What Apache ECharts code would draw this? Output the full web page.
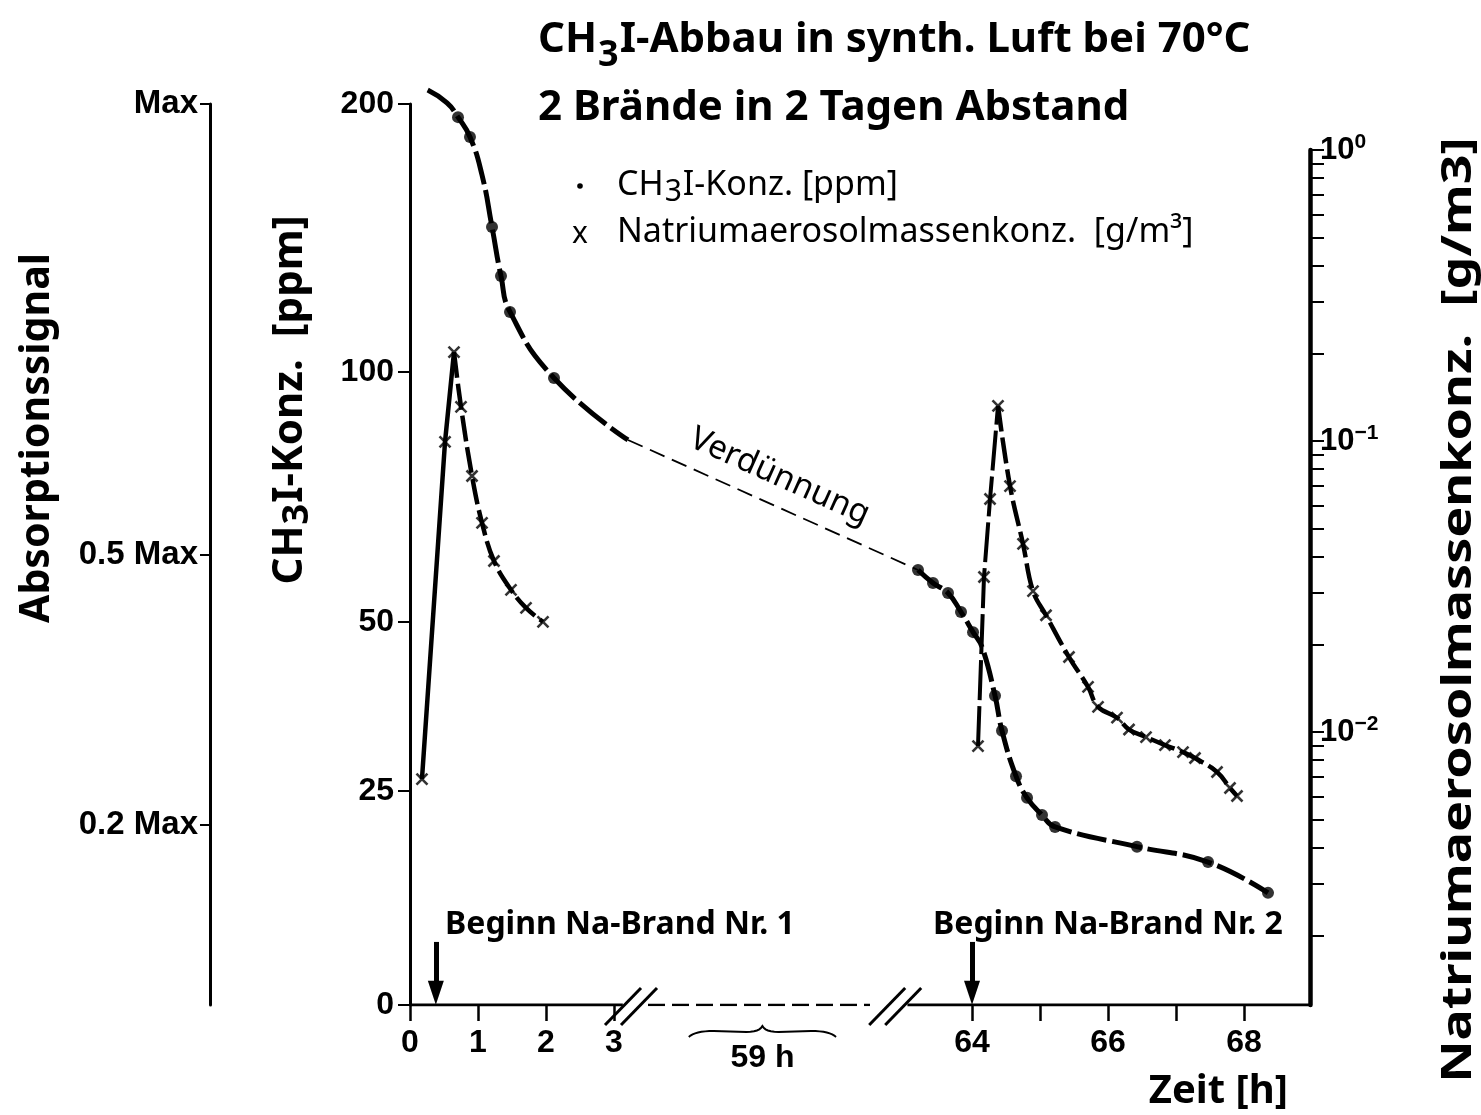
<!DOCTYPE html>
<html><head><meta charset="utf-8">
<script src="https://cdn.jsdelivr.net/npm/echarts@6/dist/echarts.min.js"></script>
<style>html,body{margin:0;padding:0;background:#fff}#c{width:1481px;height:1115px}</style>
</head><body><div id="c"></div>
<script>
// ================= DATA =================
// time axis (hours)
const timeTicks  = [0, 1, 2, 3, 64, 65, 66, 67, 68];
const timeLabels = [0, 1, 2, 3, 64, 66, 68];
const timeBreak  = [3.25, 62.9];      // axis break between these hours (59 h compressed)
const timeShift  = 55.735;            // hours removed by the break
const fireStart  = [0.38, 64.0];      // "Beginn Na-Brand" arrows

// CH3I axis (ppm) – calibrated against absorption signal (fraction of Max)
const ch3iTicks    = [0, 25, 50, 100, 200];
const ch3iTickFrac = [0, 0.2375, 0.4251, 0.7026, 1];
// absorption signal axis
const absTicks      = [0.2, 0.5, 1];
const absTickLabels = ['0.2 Max', '0.5 Max', 'Max'];
// aerosol axis (log10 of g/m3)
const aeroLogMin = -2.938, aeroLogMax = 0;
const aeroLabelExp = [0, -1, -2];
const aeroLabels   = ['10{s|0}', '10{s|−1}', '10{s|−2}'];

// CH3I concentration [time h, ppm]
const ch3iCurve1 = [[0.26,205.2],[0.544,200.4],[0.706,195.1],[0.882,187.7],[1.059,173.5],[1.206,154.1],[1.338,135.8],[1.471,122.4],[2.118,98.8],[3.206,86.4]];
const ch3iDilution = [[3.206,86.4],[63.206,60.4]];
const ch3iCurve2 = [[63.206,60.4],[63.426,57.8],[63.647,55.8],[63.838,52.0],[64.015,48.5],[64.147,46.3],[64.338,39.1],[64.441,33.9],[64.647,27.2],[64.809,24.2],[65.029,22.2],[65.221,20.8],[66.426,18.5],[67.471,16.7],[68.353,13.1]];
const ch3iMeasured = [[0.544,200.4],[0.706,195.1],[0.882,187.7],[1.206,154.1],[1.338,135.8],[1.471,122.4],[2.118,98.8],
  [63.206,60.4],[63.426,57.8],[63.647,55.8],[63.838,52.0],[64.015,48.5],[64.338,39.1],[64.441,33.9],[64.647,27.2],[64.809,24.2],[65.029,22.2],[65.221,20.8],[66.426,18.5],[67.471,16.7],[68.353,13.1]];

// Na aerosol mass concentration [time h, g/m3]
const aeroRise1  = [[0.176,0.00689],[0.515,0.0993],[0.647,0.202]];
const aeroDecay1 = [[0.647,0.202],[0.75,0.131],[0.912,0.0758],[1.059,0.0523],[1.235,0.0387],[1.485,0.0308],[1.706,0.0267],[1.956,0.0239]];
const aeroRise2  = [[64.088,0.00895],[64.176,0.0341],[64.265,0.0632],[64.382,0.132]];
const aeroDecay2 = [[64.382,0.132],[64.559,0.070],[64.75,0.0443],[64.897,0.0305],[65.088,0.0252],[65.426,0.0181],[65.706,0.0143],[65.853,0.0122],[66.132,0.0112],[66.309,0.0102],[66.559,0.00961],[66.838,0.00902],[67.103,0.00853],[67.279,0.00814],[67.603,0.00729],[67.794,0.00642],[67.897,0.00603]];

// ================= SCALES =================
function tAx(t){
  const b0 = timeBreak[0], b1 = timeBreak[1], u1 = b1 - timeShift;
  if (t <= b0) return t;
  if (t >= b1) return t - timeShift;
  return b0 + (t - b0) * (u1 - b0) / (b1 - b0);
}
function ppmToFrac(c){
  const T = ch3iTicks, F = ch3iTickFrac;
  let i = 1; while (i < T.length - 1 && c > T[i]) i++;
  return F[i-1] + (c - T[i-1]) * (F[i] - F[i-1]) / (T[i] - T[i-1]);
}
const near = (a,b) => Math.abs(a-b) < 1e-6;
const ch3iPts = arr => arr.map(p => [tAx(p[0]), ppmToFrac(p[1])]);
const aeroPts = arr => arr.map(p => [tAx(p[0]), Math.log10(p[1])]);
const aeroTickVals = [];
for (let e = -3; e <= 0; e++) for (let k = 1; k <= 9; k++) {
  const v = e + Math.log10(k);
  if (v >= aeroLogMin - 1e-9 && v <= aeroLogMax + 1e-9) aeroTickVals.push(v);
}

// ================= STYLE =================
const SANS = "'Noto Sans','Open Sans',sans-serif";
const TICKF = "'Liberation Sans',Arial,sans-serif";
const tickLabel = {fontFamily: TICKF, fontWeight: 'bold', fontSize: 32, color: '#000'};
const K = '#000';
const U_MAX = 900 / 68;
const subRich = (size, bold, lh) => ({sub: {fontFamily: SANS, fontWeight: bold ? 'bold' : 'normal', fontSize: size, verticalAlign: 'bottom', lineHeight: lh, padding: [0, 1, 0, 1]}});

const chart = echarts.init(document.getElementById('c'), null, {renderer: 'canvas'});
const G0 = {left: 410, top: 104, width: 900, height: 901};
const G1 = {left: 410, top: 150, width: 900, height: 855};

const option = {
  backgroundColor: '#fff',
  animation: false,
  title: {
    text: 'CH{sub|3}I-Abbau in synth. Luft bei 70°C\n2 Brände in 2 Tagen Abstand',
    left: 533, top: 1,
    textStyle: {fontFamily: SANS, fontWeight: 'bold', fontSize: 42, lineHeight: 68, color: K, rich: subRich(36, true, 64)}
  },
  grid: [G0, G1],
  xAxis: [
    {gridIndex: 0, type: 'value', min: 0, max: U_MAX,
     axisLine: {show: false, onZero: false}, splitLine: {show: false},
     axisTick: {show: true, customValues: timeTicks.map(tAx), length: 16, lineStyle: {color: K, width: 2.5}},
     axisLabel: {customValues: timeLabels.map(tAx), margin: 22, ...tickLabel,
       formatter: v => { const i = timeLabels.findIndex(l => near(tAx(l), v)); return i < 0 ? '' : String(timeLabels[i]); }}},
    {gridIndex: 1, type: 'value', min: 0, max: U_MAX, show: false, axisLine: {onZero: false}}
  ],
  yAxis: [
    {gridIndex: 0, type: 'value', min: 0, max: 1, position: 'left',
     axisLine: {show: true, onZero: false, lineStyle: {color: K, width: 3}}, splitLine: {show: false},
     axisTick: {show: true, customValues: ch3iTickFrac, length: 12, lineStyle: {color: K, width: 2}},
     axisLabel: {customValues: ch3iTickFrac, margin: 16, ...tickLabel,
       formatter: v => { const i = ch3iTickFrac.findIndex(f => near(f, v)); return i < 0 ? '' : String(ch3iTicks[i]); }}},
    {gridIndex: 1, type: 'value', min: aeroLogMin, max: aeroLogMax, position: 'right',
     axisLine: {show: true, onZero: false, lineStyle: {color: K, width: 4.5}}, splitLine: {show: false},
     axisTick: {show: true, customValues: aeroTickVals, length: 14, lineStyle: {color: K, width: 2}},
     axisLabel: {customValues: aeroLabelExp, margin: 10, ...tickLabel, fontSize: 31, lineHeight: 36, verticalAlign: 'middle',
       rich: {s: {fontFamily: TICKF, fontWeight: 'bold', fontSize: 21, lineHeight: 20, verticalAlign: 'top'}},
       formatter: v => { const i = aeroLabelExp.findIndex(e => near(e, v)); return i < 0 ? '' : aeroLabels[i]; }}},
    {gridIndex: 0, type: 'value', min: 0, max: 1, position: 'left', offset: 200,
     axisLine: {show: true, onZero: false, lineStyle: {color: K, width: 3}}, splitLine: {show: false},
     axisTick: {show: true, customValues: absTicks, length: 10, lineStyle: {color: K, width: 2}},
     axisLabel: {customValues: absTicks, margin: 12, ...tickLabel, fontSize: 33,
       formatter: v => { const i = absTicks.findIndex(f => near(f, v)); return i < 0 ? '' : absTickLabels[i]; }}}
  ],
  series: [
    // broken time axis line
    {type: 'line', xAxisIndex: 0, yAxisIndex: 0, silent: true, symbol: 'none', z: 5,
     data: [[0,0],[tAx(timeBreak[0]) - 0.12, 0]], lineStyle: {color: K, width: 3},
     markLine: {silent: true, symbol: ['none', 'triangle'], symbolSize: [16, 24],
       label: {show: false}, lineStyle: {color: K, width: 5, type: 'solid'},
       data: fireStart.map(t => [{coord: [tAx(t), 0.07]}, {coord: [tAx(t), 0.0135]}])}},
    {type: 'line', xAxisIndex: 0, yAxisIndex: 0, silent: true, symbol: 'none', z: 5,
     data: [[tAx(timeBreak[0]) + 0.25, 0],[tAx(timeBreak[1]) - 0.4, 0]], lineStyle: {color: K, width: 2.5, type: [17, 7]}},
    {type: 'line', xAxisIndex: 0, yAxisIndex: 0, silent: true, symbol: 'none', z: 5,
     data: [[tAx(timeBreak[1]) + 0.15, 0],[U_MAX, 0]], lineStyle: {color: K, width: 3}},
    // CH3I
    {name: 'CH3I-1', type: 'line', xAxisIndex: 0, yAxisIndex: 0, data: ch3iPts(ch3iCurve1), smooth: 0.5, clip: false,
     symbol: 'none', lineStyle: {color: K, width: 5, type: [34, 6]}},
    {name: 'Verd', type: 'line', xAxisIndex: 0, yAxisIndex: 0, data: ch3iPts(ch3iDilution),
     symbol: 'none', lineStyle: {color: K, width: 1.8, type: [16, 8]}},
    {name: 'CH3I-2', type: 'line', xAxisIndex: 0, yAxisIndex: 0, data: ch3iPts(ch3iCurve2), smooth: 0.45,
     symbol: 'none', lineStyle: {color: K, width: 5, type: [30, 6]}},
    {name: 'CH₃I-Konz. [ppm]', type: 'scatter', xAxisIndex: 0, yAxisIndex: 0, data: ch3iPts(ch3iMeasured),
     symbol: 'circle', symbolSize: 12, itemStyle: {color: K}, z: 6},
    // aerosol
    {type: 'line', xAxisIndex: 1, yAxisIndex: 1, data: aeroPts(aeroRise1), symbol: 'none', lineStyle: {color: K, width: 4.5}},
    {type: 'line', xAxisIndex: 1, yAxisIndex: 1, data: aeroPts(aeroDecay1), smooth: 0.4, symbol: 'none', lineStyle: {color: K, width: 4.5, type: [26, 6]}},
    {type: 'line', xAxisIndex: 1, yAxisIndex: 1, data: aeroPts(aeroRise2), symbol: 'none', lineStyle: {color: K, width: 4, type: [40, 6]}},
    {type: 'line', xAxisIndex: 1, yAxisIndex: 1, data: aeroPts(aeroDecay2), smooth: 0.4, symbol: 'none', lineStyle: {color: K, width: 4.5, type: [26, 6]}},
    {name: 'Natriumaerosolmassenkonz. [g/m³]', type: 'scatter', xAxisIndex: 1, yAxisIndex: 1,
     data: aeroPts(aeroRise1.concat(aeroDecay1.slice(1), aeroRise2, aeroDecay2.slice(1))),
     symbol: 'path://M0,0L10,10M10,0L0,10', symbolSize: 11,
     itemStyle: {color: 'rgba(0,0,0,0)', borderColor: K, borderWidth: 2.6}, z: 6}
  ]
};
chart.setOption(option);

// ---------- annotations (positioned from the axes) ----------
const px = (u, f) => chart.convertToPixel({xAxisIndex: 0, yAxisIndex: 0}, [u, f]);
const axisY = px(0, 0)[1];
const g = [];
function slashes(u){
  const c = px(u, 0)[0];
  [-8, 8].forEach(d => g.push({type: 'line', silent: true, z: 20,
    shape: {x1: c + d - 18, y1: axisY + 20, x2: c + d + 18, y2: axisY - 17},
    style: {stroke: K, lineWidth: 3}}));
}
slashes(tAx(timeBreak[0]));
slashes(tAx(timeBreak[1]) - 0.03);
// brace under the dashed (compressed) part of the time axis
function quad(a, c, b, n, out){
  for (let i = 1; i <= n; i++){ const s = i / n, r = 1 - s;
    out.push([r*r*a[0] + 2*r*s*c[0] + s*s*b[0], r*r*a[1] + 2*r*s*c[1] + s*s*b[1]]); }
}
const bL = px(tAx(timeBreak[0]) + 0.85, 0)[0], bR = px(tAx(timeBreak[1]) - 0.9, 0)[0], bM = (bL + bR) / 2, by = axisY + 27;
const bp = [[bL, by + 5]];
quad([bL, by + 5], [bL + 6, by - 1], [bL + 25, by - 1], 8, bp);
bp.push([bM - 16, by]);
quad([bM - 16, by], [bM - 3, by], [bM, by - 6], 6, bp);
quad([bM, by - 6], [bM + 3, by], [bM + 16, by], 6, bp);
bp.push([bR - 25, by - 1]);
quad([bR - 25, by - 1], [bR - 6, by - 1], [bR, by + 5], 8, bp);
g.push({type: 'polyline', silent: true, z: 20, shape: {points: bp}, style: {stroke: K, lineWidth: 2, fill: null}});
g.push({type: 'text', z: 20, x: bM, y: by + 26, style: {text: '59 h', fontFamily: TICKF, fontWeight: 'bold', fontSize: 32, fill: K, align: 'center', verticalAlign: 'middle'}});
// Verdünnung
const p0 = px(...ch3iPts(ch3iDilution)[0]), p1 = px(...ch3iPts(ch3iDilution)[1]);
const ang = Math.atan2(p1[1] - p0[1], p1[0] - p0[0]);
const mx = (p0[0] + p1[0]) / 2, my = (p0[1] + p1[1]) / 2;
g.push({type: 'text', z: 20, x: mx + 31 * Math.sin(ang) - 6, y: my - 31 * Math.cos(ang), rotation: -ang,
  style: {text: 'Verdünnung', fontFamily: SANS, fontSize: 33, fill: K, align: 'center', verticalAlign: 'middle'}});
// fire labels
const fl = [['Beginn Na-Brand Nr. 1', 445], ['Beginn Na-Brand Nr. 2', 933]];
fl.forEach(f => g.push({type: 'text', z: 20, x: f[1], y: 925,
  style: {text: f[0], fontFamily: SANS, fontWeight: 'bold', fontSize: 32, fill: K, align: 'left', verticalAlign: 'middle'}}));
// legend
g.push({type: 'circle', z: 20, shape: {cx: 580, cy: 186, r: 2.8}, style: {fill: K}});
g.push({type: 'text', z: 20, x: 580, y: 234, style: {text: 'x', fontFamily: SANS, fontSize: 30, fill: K, align: 'center', verticalAlign: 'middle'}});
g.push({type: 'text', z: 20, x: 617, y: 185, style: {text: 'CH{sub|3}I-Konz. [ppm]', lineHeight: 44, rich: subRich(30, false, 36), fontFamily: SANS, fontSize: 34, fill: K, align: 'left', verticalAlign: 'middle'}});
g.push({type: 'text', z: 20, x: 617, y: 232, style: {text: 'Natriumaerosolmassenkonz.  [g/m³]', fontFamily: SANS, fontSize: 34, fill: K, align: 'left', verticalAlign: 'middle'}});
// axis names
g.push({type: 'text', z: 20, x: 37, y: 438, rotation: Math.PI / 2,
  style: {text: 'Absorptionssignal', fontFamily: SANS, fontWeight: 'bold', fontSize: 41, fill: K, align: 'center', verticalAlign: 'middle'}});
g.push({type: 'text', z: 20, x: 290, y: 400, rotation: Math.PI / 2,
  style: {text: 'CH{sub|3}I-Konz.  [ppm]', rich: subRich(36, true, 46), fontFamily: SANS, fontWeight: 'bold', fontSize: 42, lineHeight: 52, fill: K, align: 'center', verticalAlign: 'middle'}});
g.push({type: 'text', z: 20, x: 1459, y: 610, rotation: Math.PI / 2, scaleX: 1.27,
  style: {text: 'Natriumaerosolmassenkonz.  [g/m3]', fontFamily: SANS, fontWeight: 'bold', fontSize: 41, fill: K, align: 'center', verticalAlign: 'middle'}});
g.push({type: 'text', z: 20, x: 1288, y: 1092,
  style: {text: 'Zeit [h]', fontFamily: SANS, fontWeight: 'bold', fontSize: 40, fill: K, align: 'right', verticalAlign: 'middle'}});
chart.setOption({graphic: g});
</script></body></html>
